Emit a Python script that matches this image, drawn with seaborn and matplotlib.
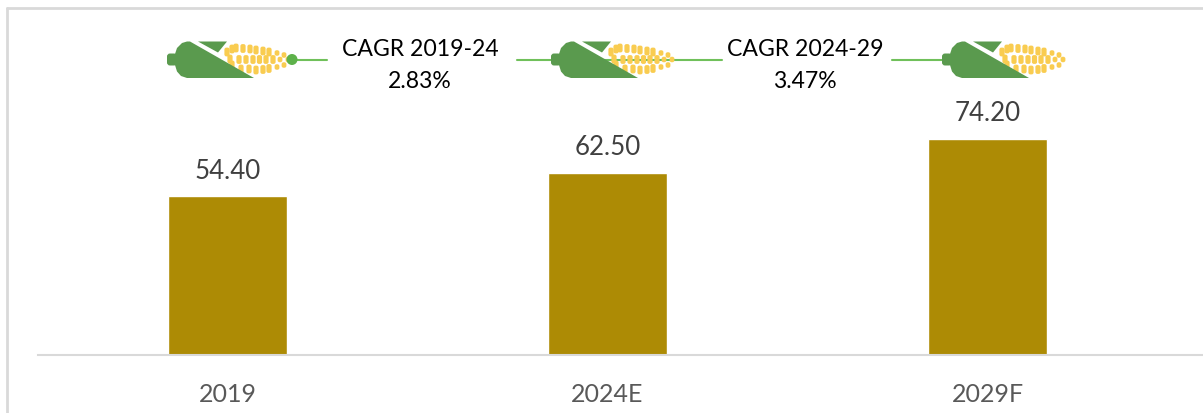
import matplotlib
matplotlib.use('Agg')
import matplotlib.pyplot as plt
from matplotlib.patches import Polygon, Circle, FancyBboxPatch
import seaborn as sns
import pandas as pd

years = ['2019', '2024E', '2029F']
market_size = [54.40, 62.50, 74.20]
cagr_periods = ['CAGR 2019-24', 'CAGR 2024-29']
cagr_values = ['2.83%', '3.47%']

GREEN = '#5A9A4E'
YELLOW = '#F9CC50'
W, H = 1203, 414
BASE = 355.5


def draw_corn(ov, dx):
    # kernels first, husk goes on top
    rows = [
        [(227, 53), (232, 50), (236, 49), (243, 49.5), (250, 50), (256, 51), (263, 52), (269, 53), (277, 54), (284, 56)],
        [(230, 60), (239, 60.5), (246, 60.5), (253, 60.5), (259.5, 60.5), (266, 60.5), (273, 60.5), (280, 60.5), (288, 60.5)],
        [(232, 66), (241, 70), (249, 70), (256, 71), (263, 70.5), (269, 69.5), (277, 68), (284, 66)],
    ]
    for row in rows:
        for x, y in row:
            small = x >= 277
            wid = 4.8 if small else 5.2
            hei = 5.5 if small else 8.8
            ov.add_patch(FancyBboxPatch((x + dx - wid / 2, y - hei / 2), wid, hei,
                                        boxstyle='round,pad=0,rounding_size=2',
                                        fc=YELLOW, ec='none', zorder=3))
    # stem
    ov.add_patch(FancyBboxPatch((167 + dx, 54.5), 10, 12, boxstyle='round,pad=0,rounding_size=3',
                                fc=GREEN, ec='none', zorder=4))
    # husk body
    body = [(175, 55), (177, 49), (182, 44), (187, 42.5), (190, 42.5), (254, 79),
            (187, 79), (181, 77), (177, 72.5), (175, 66)]
    ov.add_patch(Polygon([(x + dx, y) for x, y in body], fc=GREEN, ec='none', zorder=4))
    leaf = [(198, 42.5), (227, 42.5), (218, 53.5)]
    ov.add_patch(Polygon([(x + dx, y) for x, y in leaf], fc=GREEN, ec='none', zorder=4))


def main():
    sns.set_theme(style='white')
    plt.rcParams['font.family'] = ['Lato', 'DejaVu Sans']

    df = pd.DataFrame({'year': years, 'size': market_size})

    fig = plt.figure(figsize=(W / 100, H / 100), dpi=100)
    ax = fig.add_axes([37.5 / W, (H - BASE) / H, (W - 37.5) / W, BASE / H])
    sns.barplot(data=df, x='year', y='size', color='#AD8B05', saturation=1, width=0.315, ax=ax)

    ax.set_xlim(-0.5, 2.567)
    ax.set_ylim(0, BASE / 2.905)
    ax.set_xlabel('')
    ax.set_ylabel('')
    ax.set_yticks([])
    ax.tick_params(axis='x', length=0, pad=20, labelsize=18, labelcolor='#595959')
    sns.despine(ax=ax, left=True)
    ax.spines['bottom'].set_color('#D9D9D9')
    ax.spines['bottom'].set_linewidth(1.5)
    ax.bar_label(ax.containers[0], fmt='%.2f', padding=10, fontsize=18.6, color='#404040')

    # overlay in pixel coordinates for frame, connectors and icons
    ov = fig.add_axes([0, 0, 1, 1])
    ov.set_xlim(0, W)
    ov.set_ylim(H, 0)
    ov.axis('off')
    ov.patch.set_alpha(0)

    ov.plot([7, 7], [9, H], color='#D9D9D9', lw=2)
    ov.plot([7, W], [9, 9], color='#D9D9D9', lw=2)

    for x0, x1 in [(292, 327), (517, 722), (892, 960)]:
        ov.plot([x0, x1], [60.5, 60.5], color='#70C05A', lw=1.5, zorder=1)
    ov.add_patch(Circle((292, 60.5), 5.5, fc='#5DB14A', ec='none', zorder=5))

    for dx in [0, 384, 775]:
        draw_corn(ov, dx)

    for cx, period, val in zip([420, 805], cagr_periods, cagr_values):
        ov.text(cx, 49, period, ha='center', va='center', fontsize=16.6, color='black')
        ov.text(cx, 81, val, ha='center', va='center', fontsize=16.6, color='black')

    fig.savefig('out.png', dpi=100)


if __name__ == '__main__':
    main()
